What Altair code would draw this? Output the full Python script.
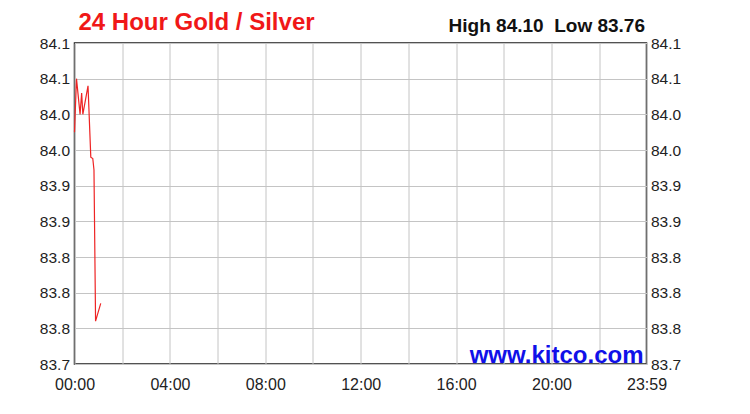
import altair as alt
import pandas as pd

# ---- data ----
minutes = [0, 5, 14, 18, 21, 34, 41, 46, 49, 53, 66]
ratio = [84.025, 84.10, 84.05, 84.08, 84.05, 84.09, 83.99, 83.988, 83.972, 83.76, 83.785]

x_tick_values = [0, 120, 240, 360, 480, 600, 720, 840, 960, 1080, 1200, 1320, 1439]
x_tick_labels = ["00:00", "", "04:00", "", "08:00", "", "12:00", "", "16:00", "", "20:00", "", "23:59"]

y_tick_values = [83.70, 83.75, 83.80, 83.85, 83.90, 83.95, 84.00, 84.05, 84.10, 84.15]
y_tick_labels = ["83.7", "83.8", "83.8", "83.8", "83.9", "83.9", "84.0", "84.0", "84.1", "84.1"]

title_text = "24 Hour Gold / Silver"
high_value = 84.10
low_value = 83.76
site_text = "www.kitco.com"

df = pd.DataFrame({"minute": minutes, "ratio": ratio})

FONT = "Arial, Liberation Sans, sans-serif"


def label_expr(values, labels):
    vals = "[" + ",".join(repr(v) for v in values) + "]"
    labs = "[" + ",".join("'" + l + "'" for l in labels) + "]"
    return f"{labs}[indexof({vals}, datum.value)]"


x_enc = alt.X(
    "minute:Q",
    scale=alt.Scale(domain=[0, 1439], nice=False, zero=False),
    axis=alt.Axis(
        values=x_tick_values,
        labelExpr=label_expr(x_tick_values, x_tick_labels),
        title=None,
        grid=True,
        gridColor="#c4c4c4",
        gridWidth=1,
        ticks=False,
        tickSize=0,
        domain=False,
        labelPadding=12,
        labelFont=FONT,
        labelFontSize=16,
        labelColor="#222222",
        labelFlush=False,
        labelOverlap=False,
    ),
)

y_scale = alt.Scale(domain=[83.70, 84.15], nice=False, zero=False)

line = alt.Chart(df).mark_line(color="#ee2424", strokeWidth=1.2).encode(
    x=x_enc,
    y=alt.Y(
        "ratio:Q",
        scale=y_scale,
        axis=alt.Axis(
            values=y_tick_values,
            labelExpr=label_expr(y_tick_values, y_tick_labels),
            title=None,
            grid=True,
            gridColor="#c4c4c4",
            gridWidth=1,
            ticks=False,
            tickSize=0,
            domain=False,
            labelPadding=5,
            labelFont=FONT,
            labelFontSize=15.5,
            labelColor="#222222",
            labelFlush=False,
            labelOverlap=False,
        ),
    ),
)

right_axis = alt.Chart(df).mark_line(opacity=0).encode(
    x=x_enc,
    y=alt.Y(
        "ratio:Q",
        scale=y_scale,
        axis=alt.Axis(
            orient="right",
            values=y_tick_values,
            labelExpr=label_expr(y_tick_values, y_tick_labels),
            title=None,
            grid=False,
            ticks=False,
            tickSize=0,
            domain=False,
            labelPadding=4,
            labelFont=FONT,
            labelFontSize=15.5,
            labelColor="#222222",
            labelFlush=False,
            labelOverlap=False,
        ),
    ),
)

title_mark = alt.Chart(pd.DataFrame({"t": [title_text]})).mark_text(
    align="left", baseline="alphabetic", font=FONT, fontSize=24, fontWeight="bold", color="#f01818"
).encode(text="t:N", x=alt.value(4), y=alt.value(-13))

hl_mark = alt.Chart(
    pd.DataFrame({"t": [f"High {high_value:.2f}\u00a0\u00a0Low {low_value:.2f}"]})
).mark_text(
    align="right", baseline="alphabetic", font=FONT, fontSize=19, fontWeight="bold", color="#111111"
).encode(text="t:N", x=alt.value(570.5), y=alt.value(-10.7))

site_mark = alt.Chart(pd.DataFrame({"t": [site_text]})).mark_text(
    align="right", baseline="alphabetic", font=FONT, fontSize=24, fontWeight="bold", color="#1010e8"
).encode(text="t:N", x=alt.value(569), y=alt.value(319.5))

chart = (
    alt.layer(line, right_axis, title_mark, hl_mark, site_mark)
    .resolve_axis(y="independent")
    .properties(
        width=572,
        height=321,
        autosize=alt.AutoSizeParams(type="none"),
        padding={"left": 66.5, "top": 35, "right": 80, "bottom": 40},
        background="white",
    )
    .configure_view(stroke="#1a1a1a", strokeWidth=1.5)
)

chart.save("out.html", embed_options={"renderer": "svg", "actions": False})
